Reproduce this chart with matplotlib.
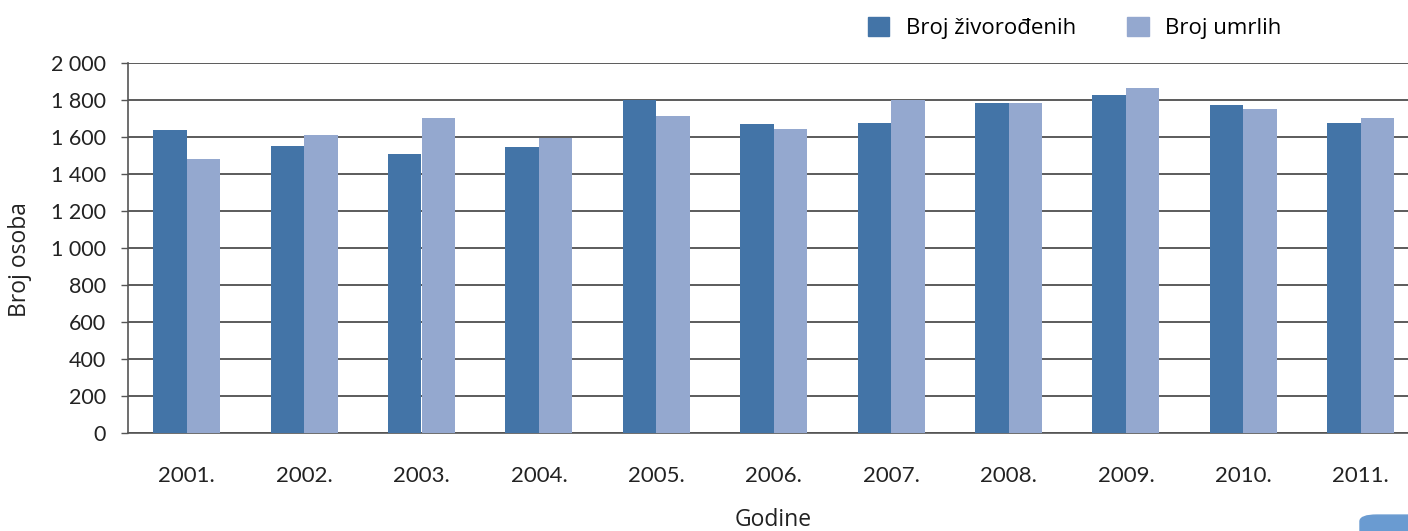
import matplotlib
matplotlib.use("Agg")
from matplotlib import pyplot as plt
from matplotlib.patches import Patch, FancyBboxPatch
from matplotlib.ticker import FuncFormatter
import numpy as np

years = ['2001.', '2002.', '2003.', '2004.', '2005.', '2006.', '2007.', '2008.', '2009.', '2010.', '2011.']
zivorodeni = [1638, 1551, 1508, 1546, 1798, 1670, 1676, 1784, 1827, 1773, 1676]
umrli = [1481, 1611, 1703, 1597, 1713, 1643, 1798, 1784, 1865, 1751, 1703]
series_names = ['Broj živorođenih', 'Broj umrlih']
y_ticks = [0, 200, 400, 600, 800, 1000, 1200, 1400, 1600, 1800, 2000]

dark = '#4374A7'
light = '#94A8CF'

fig = plt.figure(figsize=(14.08, 5.31), dpi=100)
ax = fig.add_axes([128/1408, 98/531, 1291.4/1408, 370/531])

x = np.arange(len(years))
w = 0.285
ax.bar(x - w/2, zivorodeni, w, color=dark, zorder=3)
ax.bar(x + w/2, umrli, w, color=light, zorder=3)

ax.set_xlim(-0.5, len(years) - 0.5)
ax.set_ylim(0, 2000)
ax.set_yticks(y_ticks)
ax.yaxis.set_major_formatter(FuncFormatter(lambda v, p: f"{int(v):,}".replace(",", " ")))
ax.yaxis.grid(True, color='#404040', linewidth=1.2, zorder=0)
ax.set_axisbelow(True)

ax.set_xticks(x)
ax.set_xticklabels(years)
ax.tick_params(axis='x', length=0, pad=24, labelsize=16, labelcolor='#222222')
ax.tick_params(axis='y', length=5, width=1, color='#555555', pad=11, labelsize=15.5, labelcolor='#222222')
for lab in ax.get_xticklabels() + ax.get_yticklabels():
    lab.set_family('Lato')

for s in ['top', 'right']:
    ax.spines[s].set_visible(False)
for s in ['left', 'bottom']:
    ax.spines[s].set_color('#555555')
    ax.spines[s].set_linewidth(1.2)

fig.text(20/1408, 1 - 260/531, 'Broj osoba', family='Open Sans', fontsize=16.5, color='#222222',
         ha='center', va='center', rotation=90)
fig.text(773/1408, 1 - 520/531, 'Godine', family='Open Sans', fontsize=16.5, color='#222222',
         ha='center', va='center')

handles = [Patch(color=dark), Patch(color=light)]
fig.legend(handles, series_names, loc='center', bbox_to_anchor=(1075/1408, 1 - 28/531),
           ncol=2, frameon=False, handlelength=0.95, handleheight=0.95, handletextpad=0.75,
           columnspacing=2.3, prop={'family': 'Open Sans', 'size': 16})

# small decorative tab in the bottom right corner
fig.patches.append(FancyBboxPatch((1360/1408, -0.02), 0.06, 0.05, boxstyle='round,pad=0,rounding_size=0.012',
                                  transform=fig.transFigure, color='#6A9BD1', zorder=5))

fig.savefig('out.png', dpi=100)
